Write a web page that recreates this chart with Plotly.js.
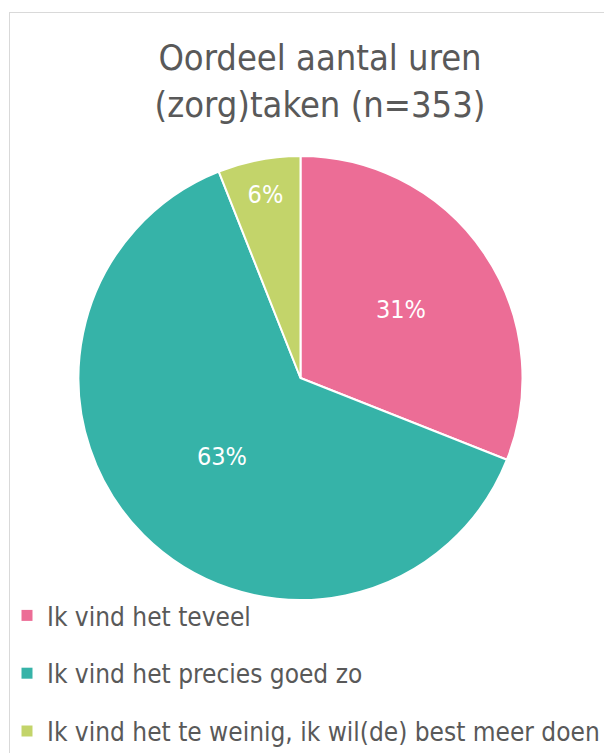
<!DOCTYPE html>
<html>
<head>
<meta charset="utf-8">
<script src="https://cdn.plot.ly/plotly-3.0.1.min.js"></script>
<style>
  html, body { margin: 0; padding: 0; background: #fff; overflow: hidden; }
  #chart { position: absolute; left: 0; top: 0; width: 604px; height: 753px; }
  #frame { position: absolute; left: 9px; top: 12px; width: 700px; height: 900px;
           border: 1.5px solid #d9d9d9; pointer-events: none; z-index: 5; }
</style>
</head>
<body>
<div id="chart"></div>
<div id="frame"></div>
<script>
const categories = [
  "Ik vind het teveel",
  "Ik vind het precies goed zo",
  "Ik vind het te weinig, ik wil(de) best meer doen"
];
const percentages = [31, 63, 6];
const colors = ["#EC6D96", "#36B3A8", "#C3D46A"];
const titleText = "Oordeel aantal uren<br>(zorg)taken (n=353)";

const W = 604, H = 753;
const cx = 300.5, cy = 378, r = 222;
const font = "'DejaVu Sans Condensed', 'DejaVu Sans', sans-serif";

const pie = {
  type: "pie",
  labels: categories,
  values: percentages,
  sort: false,
  direction: "clockwise",
  rotation: 0,
  marker: { colors: colors, line: { color: "#ffffff", width: 2 } },
  texttemplate: "%{value}%",
  textposition: "inside",
  insidetextorientation: "horizontal",
  textfont: { family: font, size: 25, color: "#ffffff" },
  hoverinfo: "label+percent",
  showlegend: false,
  domain: { x: [(cx - r) / W, (cx + r) / W], y: [(H - cy - r) / H, (H - cy + r) / H] }
};

const legendTraces = categories.map((c, i) => ({
  type: "scatter",
  mode: "markers",
  x: [null], y: [null],
  name: c,
  legendgroup: "g" + i,
  marker: { symbol: "square", size: 11, color: colors[i] },
  showlegend: true,
  hoverinfo: "skip"
}));

const layout = {
  width: W, height: H,
  margin: { l: 0, r: 0, t: 0, b: 0, autoexpand: false },
  paper_bgcolor: "#ffffff",
  plot_bgcolor: "rgba(0,0,0,0)",
  title: {
    text: titleText,
    font: { family: font, size: 36, color: "#595959" },
    x: 320 / W, xanchor: "center",
    y: 1 - 70 / H, yanchor: "top", yref: "paper"
  },
  xaxis: { visible: false, domain: [0, 0.01] },
  yaxis: { visible: false, domain: [0, 0.01] },
  showlegend: true,
  legend: {
    x: 7 / W, xanchor: "left",
    y: 1 - 592 / H, yanchor: "top",
    orientation: "v",
    traceorder: "grouped",
    tracegroupgap: 21,
    itemwidth: 30,
    font: { family: font, size: 26, color: "#595959" },
    bgcolor: "rgba(0,0,0,0)"
  }
};

Plotly.newPlot("chart", [pie, ...legendTraces], layout, { displayModeBar: false, staticPlot: true });
</script>
</body>
</html>
